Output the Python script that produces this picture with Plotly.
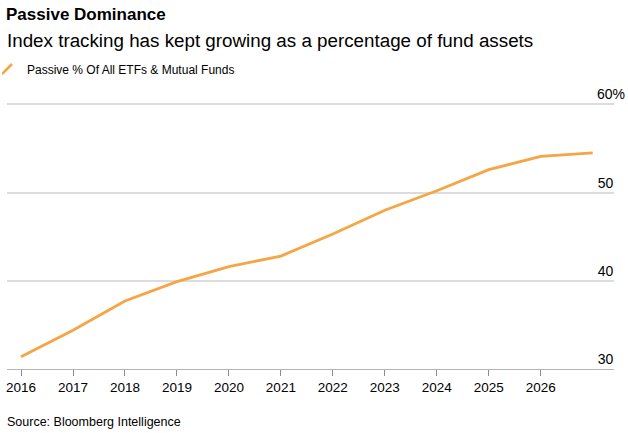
import plotly.graph_objects as go

# Passive share of all ETF & mutual fund assets (%)
years = [2016, 2017, 2018, 2019, 2020, 2021, 2022, 2023, 2024, 2025, 2026, 2027]
passive_pct = [31.4, 34.4, 37.7, 39.9, 41.6, 42.8, 45.3, 48.0, 50.2, 52.6, 54.1, 54.5]

x_ticks = [2016, 2017, 2018, 2019, 2020, 2021, 2022, 2023, 2024, 2025, 2026]
y_ticks = [30, 40, 50, 60]
y_labels = ["30", "40", "50", "60%"]

ORANGE = "#f5a544"
FONT = "Liberation Sans"

fig = go.Figure()

fig.add_trace(go.Scatter(
    x=years, y=passive_pct, mode="lines",
    line=dict(color=ORANGE, width=2.8),
    showlegend=False, hoverinfo="skip",
))
# legend-only entry so the key shows the slanted stroke
fig.add_trace(go.Scatter(
    x=[None], y=[None], mode="markers",
    marker=dict(symbol="line-ne", size=10, line=dict(color=ORANGE, width=2.5)),
    name="Passive % Of All ETFs & Mutual Funds",
))

TOP = 85      # top of plot area (px); room so the 60% label stays inside
BOTTOM = 369  # x axis line
plot_h = BOTTOM - TOP
plot_w = 614 - 7


def py(px):
    # pixel row (from top of page) -> paper y
    return (BOTTOM - px) / plot_h


def pxx(px):
    return (px - 7) / plot_w


# pad the plain numbers so they line up with the "60" of "60%"
pad = "&nbsp;" * 3
tick_text = [t if t.endswith("%") else t + pad for t in y_labels]

fig.update_layout(
    width=628, height=433,
    margin=dict(l=7, r=14, t=TOP, b=433 - BOTTOM, autoexpand=False),
    paper_bgcolor="white", plot_bgcolor="white",
    font=dict(family=FONT, color="#000000"),
    title=dict(
        text="<b>Passive Dominance</b>",
        font=dict(size=17, family=FONT, color="#000000"),
        x=6 / 628, xanchor="left", y=1 - 14 / 433, yanchor="middle",
    ),
    legend=dict(
        orientation="h", x=pxx(2), xanchor="left", y=py(69), yanchor="middle",
        indentation=-15,
        font=dict(size=12), tracegroupgap=0,
        bgcolor="rgba(0,0,0,0)",
    ),
    xaxis=dict(
        range=[2015.73, 2027.41], tickvals=x_ticks,
        showgrid=False, zeroline=False,
        showline=True, linecolor="#b5b5b5", linewidth=1,
        ticks="outside", ticklen=6, tickcolor="#8c8c8c", tickwidth=1,
        tickfont=dict(size=13.5, color="#000000"),
        fixedrange=True,
    ),
    yaxis=dict(
        range=[30, 30 + 30 * plot_h / (BOTTOM - 104.3)], side="right",
        tickvals=y_ticks, ticktext=tick_text,
        showgrid=True, gridcolor="#dcdcdc", gridwidth=1.5,
        zeroline=False, showline=False, ticks="",
        ticklabelposition="inside top", ticklabelstandoff=-14,
        tickfont=dict(size=14, color="#000000"),
        fixedrange=True,
    ),
    annotations=[
        dict(
            text="Index tracking has kept growing as a percentage of fund assets",
            xref="paper", yref="paper", x=pxx(5), y=py(41),
            xanchor="left", yanchor="middle", showarrow=False,
            font=dict(size=18.8, color="#000000"),
        ),
        dict(
            text="Source: Bloomberg Intelligence",
            xref="paper", yref="paper", x=pxx(5), y=py(422),
            xanchor="left", yanchor="middle", showarrow=False,
            font=dict(size=12.5, color="#000000"),
        ),
    ],
)

fig.write_html(
    "out.html",
    config={"displayModeBar": False},
    post_script="document.body.style.margin='0px';",
)
